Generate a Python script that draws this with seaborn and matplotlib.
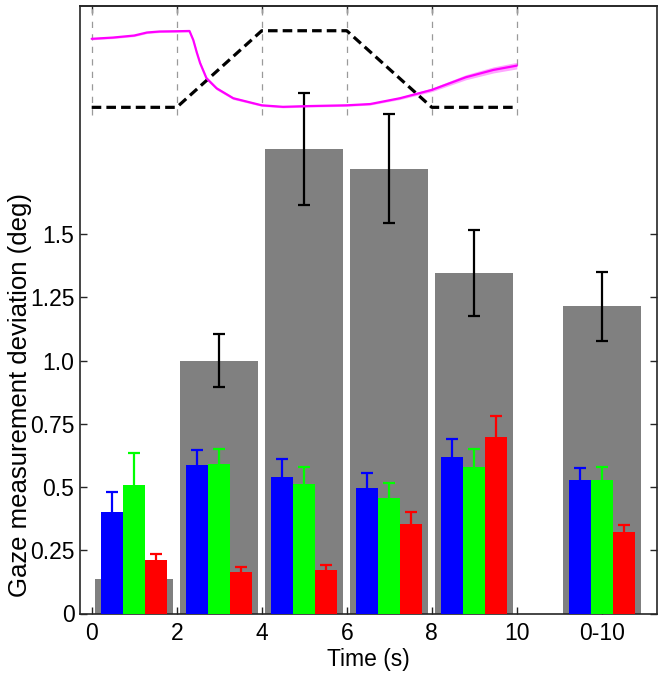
import numpy as np
import pandas as pd
import matplotlib
matplotlib.use("Agg")
import matplotlib.pyplot as plt
import seaborn as sns

# ---- data ----
bin_centers = [1, 3, 5, 7, 9, 12]
xtick_pos = [0, 2, 4, 6, 8, 10, 12]
xtick_labels = ["0", "2", "4", "6", "8", "10", "0-10"]
ytick_pos = [0, 0.25, 0.5, 0.75, 1.0, 1.25, 1.5]
ytick_labels = ["0", "0.25", "0.5", "0.75", "1.0", "1.25", "1.5"]

gray_vals = [0.136, 1.0, 1.837, 1.76, 1.348, 1.215]
gray_err = [0.02, 0.105, 0.22, 0.214, 0.17, 0.137]

blue_vals = [0.403, 0.586, 0.539, 0.498, 0.618, 0.528]
blue_err = [0.079, 0.061, 0.071, 0.059, 0.071, 0.046]
green_vals = [0.507, 0.591, 0.511, 0.457, 0.578, 0.528]
green_err = [0.129, 0.059, 0.067, 0.059, 0.073, 0.050]
red_vals = [0.212, 0.163, 0.171, 0.354, 0.699, 0.321]
red_err = [0.023, 0.020, 0.022, 0.047, 0.082, 0.030]

# inset traces (drawn in main-axis data units)
stim_t = [0, 2, 4, 6, 8, 10]
stim_y = [2.002, 2.002, 2.305, 2.305, 2.002, 2.002]
gaze_t = [0, 0.5, 1.0, 1.3, 1.6, 2.0, 2.3, 2.39, 2.47, 2.55, 2.7, 2.94, 3.33,
          4.0, 4.5, 5.1, 6.0, 6.55, 7.25, 8.0, 8.8, 9.45, 10]
gaze_y = [2.273, 2.278, 2.286, 2.298, 2.302, 2.303, 2.304, 2.268, 2.22, 2.177,
          2.117, 2.077, 2.038, 2.01, 2.004, 2.007, 2.01, 2.015, 2.038, 2.071,
          2.121, 2.15, 2.167]
gaze_sd = [0.004, 0.004, 0.004, 0.004, 0.004, 0.004, 0.004, 0.006, 0.008, 0.008,
           0.007, 0.006, 0.005, 0.004, 0.004, 0.004, 0.004, 0.004, 0.005, 0.007,
           0.010, 0.012, 0.013]
vline_pos = [0, 2, 4, 6, 8, 10]

# ---- style ----
sns.set_theme(style="ticks")
plt.rcParams["font.family"] = ["Liberation Sans", "DejaVu Sans"]
plt.rcParams["font.weight"] = "normal"
plt.rcParams["text.color"] = "black"
plt.rcParams["axes.labelcolor"] = "black"
plt.rcParams["axes.edgecolor"] = "#262626"
plt.rcParams["xtick.color"] = "#262626"
plt.rcParams["ytick.color"] = "#262626"
plt.rcParams["xtick.labelcolor"] = "black"
plt.rcParams["ytick.labelcolor"] = "black"

fig = plt.figure(figsize=(6.64, 6.80), dpi=100)
ax = fig.add_axes([80 / 664, 1 - 613.5 / 680, (656.7 - 80) / 664, (613.5 - 5.7) / 680])

# gray bars
gray_df = pd.DataFrame({"x": bin_centers, "y": gray_vals})
sns.barplot(data=gray_df, x="x", y="y", native_scale=True, width=0.92,
            color="#808080", saturation=1, linewidth=0, errorbar=None, ax=ax,
            zorder=1)
ax.errorbar(bin_centers, gray_vals, yerr=gray_err, fmt="none", ecolor="black",
            elinewidth=1.6, capsize=4, capthick=1.6, zorder=2)

# coloured bars
cond_names = ["blue", "green", "red"]
cond_cols = {"blue": "#0000FF", "green": "#00FF00", "red": "#FF0000"}
col_df = pd.DataFrame({
    "x": bin_centers * 3,
    "y": blue_vals + green_vals + red_vals,
    "cond": ["blue"] * 6 + ["green"] * 6 + ["red"] * 6,
})
sns.barplot(data=col_df, x="x", y="y", hue="cond", hue_order=cond_names,
            native_scale=True, width=0.78, palette=cond_cols, saturation=1,
            linewidth=0, errorbar=None, legend=False, ax=ax, zorder=3)
offsets = {"blue": -0.52, "green": 0.0, "red": 0.52}
errs = {"blue": blue_err, "green": green_err, "red": red_err}
vals = {"blue": blue_vals, "green": green_vals, "red": red_vals}
for c in cond_names:
    xs = [b + offsets[c] for b in bin_centers]
    eb = ax.errorbar(xs, vals[c], yerr=[[0] * 6, errs[c]], fmt="none",
                     ecolor=cond_cols[c], elinewidth=1.6, capsize=4,
                     capthick=1.6, zorder=2.8)
    caps = eb[1]
    if len(caps) == 2:
        caps[0].set_visible(False)

# inset: dashed verticals, stimulus profile, gaze trace
for v in vline_pos:
    ax.plot([v, v], [1.972, 2.404], color="#9a9a9a", lw=0.9,
            dashes=(5, 5), zorder=1.2)
ax.plot(stim_t, stim_y, color="black", lw=2.3, dashes=(3, 1.6), zorder=4)
gy = np.array(gaze_y)
gs = np.array(gaze_sd)
ax.fill_between(gaze_t, gy - gs, gy + gs, color="#FF00FF", alpha=0.35,
                linewidth=0, zorder=4.5)
sns.lineplot(x=gaze_t, y=gaze_y, color="#FF00FF", lw=1.6, ax=ax, zorder=5)

# axes
ax.set_xlim(-0.275, 13.29)
ax.set_ylim(0, 2.404)
ax.set_xticks(xtick_pos)
ax.set_xticklabels(xtick_labels)
ax.set_yticks(ytick_pos)
ax.set_yticklabels(ytick_labels)
ax.set_axisbelow(True)
ax.tick_params(axis="both", direction="in", length=5, width=1, labelsize=16.5,
               pad=6)
ax.tick_params(axis="y", right=True, pad=4)
for s in ax.spines.values():
    s.set_linewidth(1.2)
    s.set_visible(True)
sec = ax.secondary_xaxis("top")
sec.set_xticks(vline_pos)
sec.tick_params(direction="in", length=5, width=1, labeltop=False)
sec.spines["top"].set_linewidth(1.2)

ax.set_xlabel("Time (s)", fontsize=16.5, labelpad=2)
ax.set_ylabel("Gaze measurement deviation (deg)", fontsize=18.5)
ax.yaxis.set_label_coords(-0.083, 0.36)

fig.savefig("out.png", dpi=100)
